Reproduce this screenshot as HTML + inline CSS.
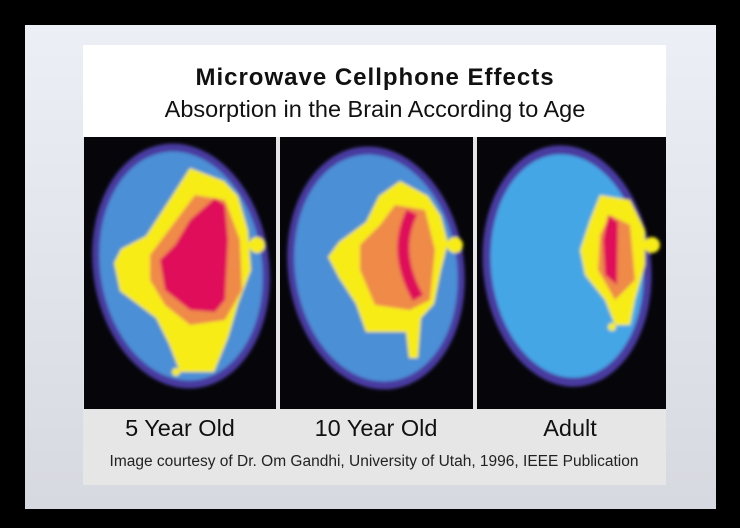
<!DOCTYPE html>
<html><head><meta charset="utf-8"><style>
body{margin:0;background:#000;width:740px;height:528px;overflow:hidden;font-family:"Liberation Sans",sans-serif}
svg{display:block}
</style></head><body>
<svg width="740" height="528" viewBox="0 0 740 528">
<defs>
<linearGradient id="bg" x1="0" y1="0" x2="0" y2="1"><stop offset="0" stop-color="#eceff6"/><stop offset="1" stop-color="#d6d9df"/></linearGradient>
<filter id="bl"><feGaussianBlur stdDeviation="1.6"/></filter>
</defs>
<rect x="25" y="25" width="691" height="484" fill="url(#bg)"/>
<rect x="83" y="45" width="583" height="440" fill="#e6e6e6"/>
<rect x="83" y="45" width="583" height="92" fill="#fff"/>
<text x="375" y="85" text-anchor="middle" font-size="24" font-weight="bold" fill="#111" letter-spacing="1">Microwave Cellphone Effects</text>
<text x="375" y="117" text-anchor="middle" font-size="23.5" fill="#111">Absorption in the Brain According to Age</text>
<rect x="84" y="137" width="192" height="272" fill="#06060a"/>
<rect x="280" y="137" width="193" height="272" fill="#06060a"/>
<rect x="477" y="137" width="189" height="272" fill="#06060a"/>
<g filter="url(#bl)">
<ellipse cx="181" cy="266" rx="88" ry="123" transform="rotate(-8 181 266)" fill="#4a3aa0"/>
<ellipse cx="181" cy="266" rx="81" ry="115" transform="rotate(-8 181 266)" fill="#4b8fd6"/>
<polygon points="190,168 224,181 238,196 248,230 251,270 238,304 228,338 214,372 180,372 169,344 156,318 120,291 114,263 121,249 146,236 172,196" fill="#f7ec12"/>
<circle cx="257" cy="245" r="8" fill="#f7ec12"/>
<circle cx="176" cy="372" r="4" fill="#f7ec12"/>
<polygon points="195,195 225,200 240,240 242,290 225,320 190,325 165,305 150,280 150,255 165,235" fill="#ef8a4a"/>
<polygon points="215,198 225,205 228,240 225,300 215,312 190,310 165,290 160,260 175,245 190,220" fill="#e0115a"/>
<ellipse cx="376" cy="268" rx="88" ry="122" transform="rotate(-8 376 268)" fill="#4a3aa0"/>
<ellipse cx="376" cy="268" rx="81" ry="114" transform="rotate(-8 376 268)" fill="#4b8fd6"/>
<polygon points="400,181 428,196 441,216 448,243 441,270 434,304 421,318 418,358 409,358 406,332 366,332 356,304 339,278 328,257 339,242 366,222 379,196" fill="#f7ec12"/>
<circle cx="455" cy="245" r="8" fill="#f7ec12"/>
<polygon points="395,205 425,210 435,250 430,300 410,310 375,305 360,270 360,245 380,225" fill="#ef8a4a"/>
<path d="M412,212 Q392,252 418,298" stroke="#e0115a" stroke-width="12" fill="none"/>
<ellipse cx="567" cy="266" rx="84" ry="121" transform="rotate(-6 567 266)" fill="#4a3aa0"/>
<ellipse cx="567" cy="266" rx="76" ry="112" transform="rotate(-6 567 266)" fill="#45a6e6"/>
<polygon points="600,195 630,200 645,230 645,265 635,300 630,325 615,325 605,300 585,275 580,250 590,220" fill="#f7ec12"/>
<circle cx="652" cy="245" r="8" fill="#f7ec12"/>
<circle cx="612" cy="327" r="4" fill="#f7ec12"/>
<polygon points="610,215 630,225 635,280 615,300 598,270 600,235" fill="#ef8a4a"/>
<polygon points="608,215 618,222 617,285 605,275 603,240" fill="#e0115a"/>
</g>
<text x="180" y="436" text-anchor="middle" font-size="23.5" fill="#111">5 Year Old</text>
<text x="376" y="436" text-anchor="middle" font-size="23.5" fill="#111">10 Year Old</text>
<text x="570" y="436" text-anchor="middle" font-size="23.5" fill="#111">Adult</text>
<text x="374" y="466" text-anchor="middle" font-size="15.5" fill="#222">Image courtesy of Dr. Om Gandhi, University of Utah, 1996, IEEE Publication</text>
</svg>
</body></html>
